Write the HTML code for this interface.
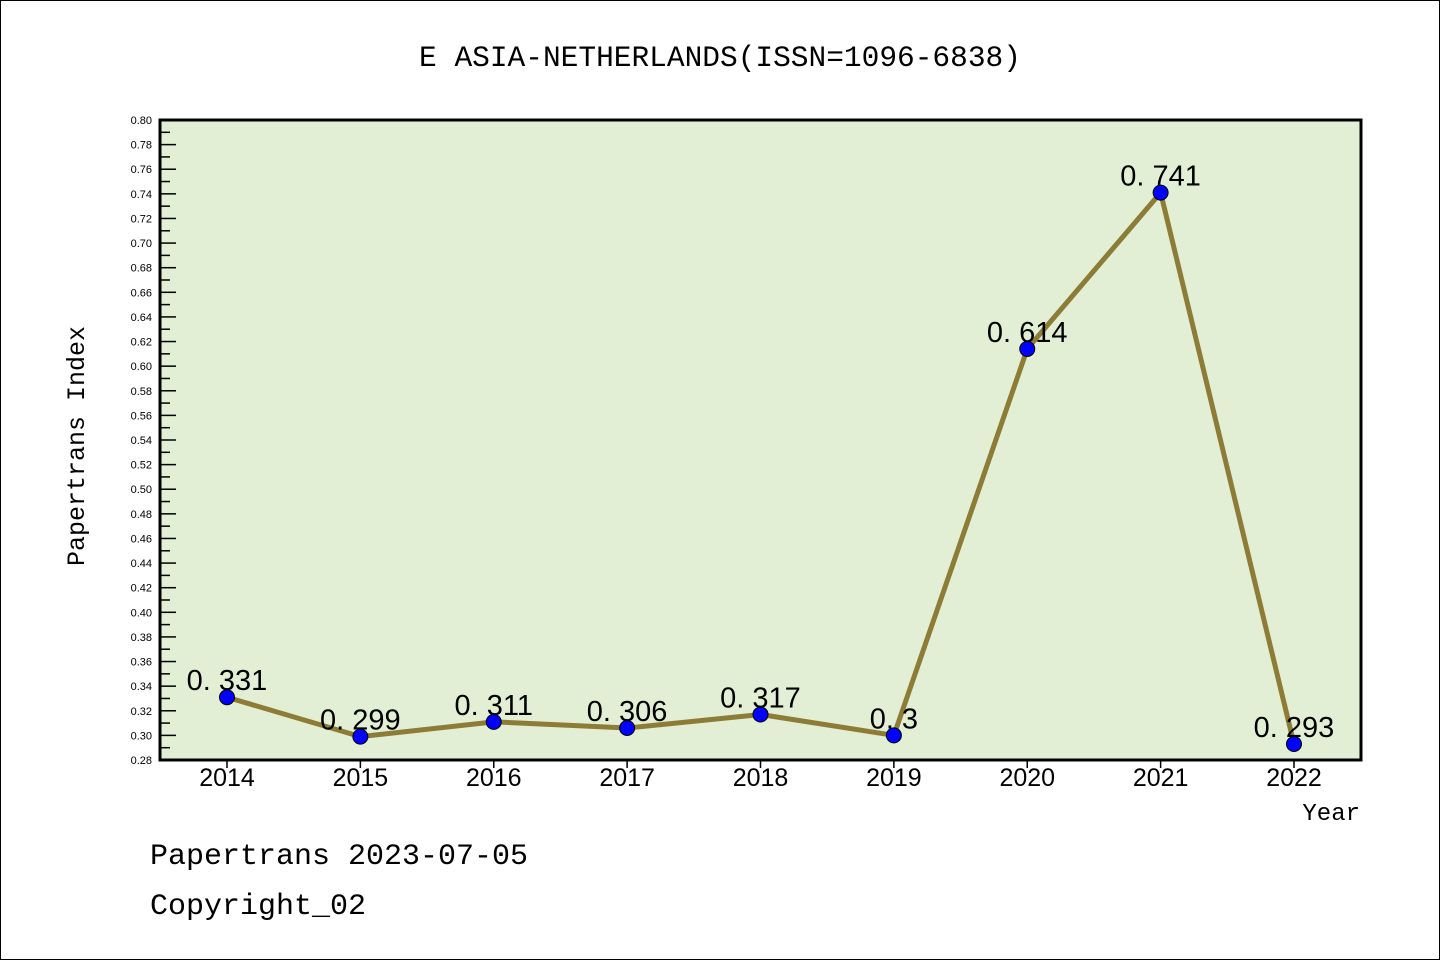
<!DOCTYPE html>
<html><head><meta charset="utf-8"><style>
html,body{margin:0;padding:0;background:#fff;}
svg{display:block;}
.mono{font-family:"Liberation Mono","WenQuanYi Zen Hei",monospace;}
.sans{font-family:"Liberation Sans","DejaVu Sans",sans-serif;}
</style></head><body>
<svg id="chart" width="1440" height="960" viewBox="0 0 1440 960">
<rect x="0.5" y="0.5" width="1439" height="959" fill="#fff" stroke="#000"/>
<text x="720" y="66" text-anchor="middle" font-size="29.5" class="mono">E ASIA-NETHERLANDS(ISSN=1096-6838)</text>
<rect x="160" y="120" width="1201" height="640" fill="#e2efd4"/>
<g id="yaxis"></g>
<g id="xaxis"></g>
<g id="series"></g>
<rect x="160" y="120" width="1201" height="640" fill="none" stroke="#000" stroke-width="3"/>
<text transform="translate(84,446) rotate(-90)" text-anchor="middle" font-size="25" class="mono">Papertrans Index</text>
<text x="1360" y="820" text-anchor="end" font-size="24" class="mono">Year</text>
<text x="150" y="864" font-size="30" class="mono">Papertrans 2023-07-05</text>
<text x="150" y="914" font-size="30" class="mono">Copyright_02</text>
</svg>
<script>
const categories=["2014","2015","2016","2017","2018","2019","2020","2021","2022"];
const values=[0.331,0.299,0.311,0.306,0.317,0.3,0.614,0.741,0.293];
const valueLabels=["0. 331","0. 299","0. 311","0. 306","0. 317","0. 3","0. 614","0. 741","0. 293"];
const yMin=0.28, yMax=0.80;
const NS="http://www.w3.org/2000/svg";
function X(i){return 227+i*(1294-227)/(categories.length-1);}
function Y(v){return 760-(v-yMin)/(yMax-yMin)*640;}
function mk(tag,attrs,parent){const e=document.createElementNS(NS,tag);for(const k in attrs)e.setAttribute(k,attrs[k]);parent.appendChild(e);return e;}
const ya=document.getElementById('yaxis');
for(let k=0;k<=52;k++){
  const v=yMin+k*0.01;const y=Y(v);const major=k%2===0;
  const t=mk('line',{x1:160,x2:160+(major?16:10),y1:y,y2:y,stroke:'#000','stroke-width':1.5},ya);
  
  
  if(major){
    const l=mk('text',{x:152,y:y+4,'text-anchor':'end','font-size':11,class:'sans'},ya);
    l.textContent=v.toFixed(2);
    
    
  }
}
const xa=document.getElementById('xaxis');
categories.forEach((c,i)=>{
  const t=mk('line',{x1:X(i),x2:X(i),y1:760,y2:768,stroke:'#000','stroke-width':1.5},xa);
  
  
  const l=mk('text',{x:X(i),y:786,'text-anchor':'middle','font-size':25,class:'sans'},xa);
  l.textContent=c;
  
  
});
const s=document.getElementById('series');
const pl=mk('polyline',{points:values.map((v,i)=>X(i)+','+Y(v)).join(' '),fill:'none',stroke:'#8c7c36','stroke-width':5},s);


values.forEach((v,i)=>{
  const c=mk('circle',{cx:X(i),cy:Y(v),r:7.5,fill:'#0000ff',stroke:'#000','stroke-width':1},s);
  
  
  const l=mk('text',{x:X(i),y:Y(v)-7,'text-anchor':'middle','font-size':29,class:'sans'},s);
  l.textContent=valueLabels[i];
  
  
});
</script>
</body></html>
